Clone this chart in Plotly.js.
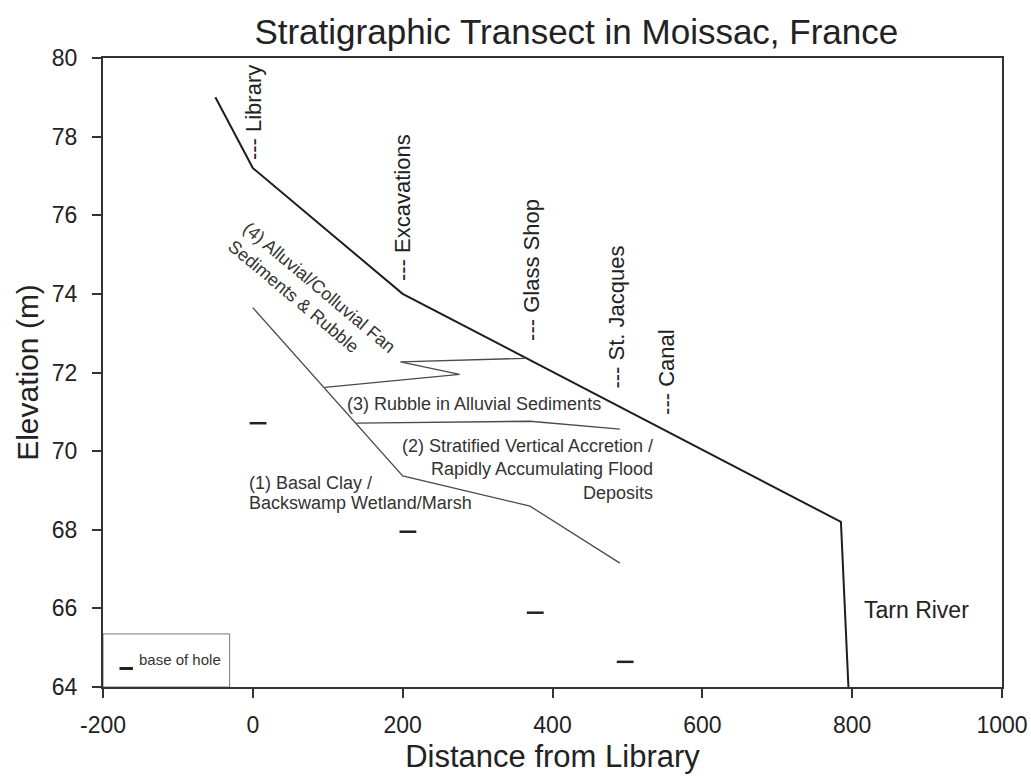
<!DOCTYPE html>
<html>
<head>
<meta charset="utf-8">
<script src="https://cdn.plot.ly/plotly-3.0.1.min.js"></script>
<style>html,body{margin:0;padding:0;background:#fff;}#chart{width:1031px;height:780px;}</style>
</head>
<body>
<div id="chart"></div>
<script>
// Ground surface profile
const groundX = [-50, 0, 200, 785, 795];
const groundY = [79.0, 77.2, 74.0, 68.2, 64.0];
// Base of unit (4) / top of unit (1)
const boundaryAX = [0, 200, 370, 490];
const boundaryAY = [73.65, 69.37, 68.6, 67.15];
// Interfingering top of unit (3)
const boundaryBX = [96, 276, 197, 363];
const boundaryBY = [71.62, 71.95, 72.27, 72.36];
// Top of unit (2)
const boundaryCX = [138, 370, 490];
const boundaryCY = [70.71, 70.76, 70.56];
// Base of holes
const holeX = [7, 207, 377, 497];
const holeY = [70.71, 67.95, 65.89, 64.64];
// Site labels
const siteNames = ['Library', 'Excavations', 'Glass Shop', 'St. Jacques', 'Canal'];
const siteX = [0, 200, 372, 486, 552];
const siteY = [77.36, 74.28, 72.74, 71.55, 70.88];
// Axis ticks
const xTickVals = [-200, 0, 200, 400, 600, 800, 1000];
const xTickText = ['-200', '0', '200', '400', '600', '800', '1000'];
const yTickVals = [64, 66, 68, 70, 72, 74, 76, 78, 80];
const yTickText = ['64', '66', '68', '70', '72', '74', '76', '78', '80'];

const FONT = 'Liberation Sans, Arial, sans-serif';
const thin = {color: '#4a4a4a', width: 1.3};

const traces = [
  {x: groundX, y: groundY, mode: 'lines', line: {color: '#1e1e1e', width: 2}, hoverinfo: 'skip'},
  {x: boundaryAX, y: boundaryAY, mode: 'lines', line: thin, hoverinfo: 'skip'},
  {x: boundaryBX, y: boundaryBY, mode: 'lines', line: thin, hoverinfo: 'skip'},
  {x: boundaryCX, y: boundaryCY, mode: 'lines', line: thin, hoverinfo: 'skip'},
  {x: holeX, y: holeY, mode: 'markers', marker: {symbol: 'line-ew', size: 12, line: {color: '#222', width: 2.5}}, hoverinfo: 'skip'}
];

const annotations = [];
siteNames.forEach((n, i) => {
  annotations.push({x: siteX[i], y: siteY[i], xref: 'x', yref: 'y', text: '--- ' + n, textangle: -90,
    showarrow: false, xanchor: 'center', yanchor: 'bottom', font: {family: FONT, size: 22, color: '#222'}});
});
const unitFont = {family: FONT, size: 18, color: '#333'};
annotations.push(
  {x: 79, y: 73.94, text: '(4) Alluvial/Colluvial Fan<br>Sediments & Rubble', textangle: 40, align: 'left', showarrow: false, font: unitFont},
  {x: 295, y: 71.19, text: '(3) Rubble in Alluvial Sediments', showarrow: false, font: unitFont},
  {x: 537, y: 69.54, text: '(2) Stratified Vertical Accretion /<br>Rapidly Accumulating Flood<br>Deposits', xanchor: 'right', align: 'right', showarrow: false, font: unitFont},
  {x: -8, y: 69.18, text: '(1) Basal Clay /', xanchor: 'left', showarrow: false, font: unitFont},
  {x: -8, y: 68.67, text: 'Backswamp Wetland/Marsh', xanchor: 'left', showarrow: false, font: unitFont},
  {x: 886, y: 65.96, text: 'Tarn River', showarrow: false, font: {family: FONT, size: 23, color: '#222'}},
  {x: -155, y: 64.69, text: 'base of hole', xanchor: 'left', showarrow: false, font: {family: FONT, size: 15, color: '#333'}}
);

const layout = {
  width: 1031, height: 780,
  margin: {l: 103, r: 29, t: 58, b: 93, pad: 0},
  paper_bgcolor: '#fff', plot_bgcolor: '#fff',
  showlegend: false,
  title: {text: 'Stratigraphic Transect in Moissac, France', font: {family: FONT, size: 35, color: '#222'}, x: 0.559, xanchor: 'center', y: 0.959, yanchor: 'middle'},
  xaxis: {
    range: [-200, 1000], showgrid: false, zeroline: false,
    showline: true, linecolor: '#333', linewidth: 2, mirror: true,
    ticks: 'outside', ticklen: 9, tickwidth: 2, tickcolor: '#333',
    tickvals: xTickVals, ticktext: xTickText, ticklabelstandoff: 7,
    tickfont: {family: FONT, size: 23, color: '#222'},
    title: {text: 'Distance from Library', font: {family: FONT, size: 31, color: '#222'}, standoff: 9}
  },
  yaxis: {
    range: [64, 80], showgrid: false, zeroline: false,
    showline: true, linecolor: '#333', linewidth: 2, mirror: true,
    ticks: 'outside', ticklen: 9, tickwidth: 2, tickcolor: '#333',
    tickvals: yTickVals, ticktext: yTickText, ticklabelstandoff: 10,
    tickfont: {family: FONT, size: 23, color: '#222'},
    title: {text: 'Elevation (m)', font: {family: FONT, size: 30, color: '#222'}, standoff: 4}
  },
  shapes: [
    {type: 'rect', xref: 'x', yref: 'y', x0: -200, x1: -31, y0: 64, y1: 65.35, line: {color: '#777', width: 1}},
    {type: 'line', xref: 'x', yref: 'y', x0: -178, x1: -160, y0: 64.47, y1: 64.47, line: {color: '#222', width: 3}}
  ],
  annotations: annotations
};

Plotly.newPlot('chart', traces, layout, {displayModeBar: false, staticPlot: true});
</script>
</body>
</html>
